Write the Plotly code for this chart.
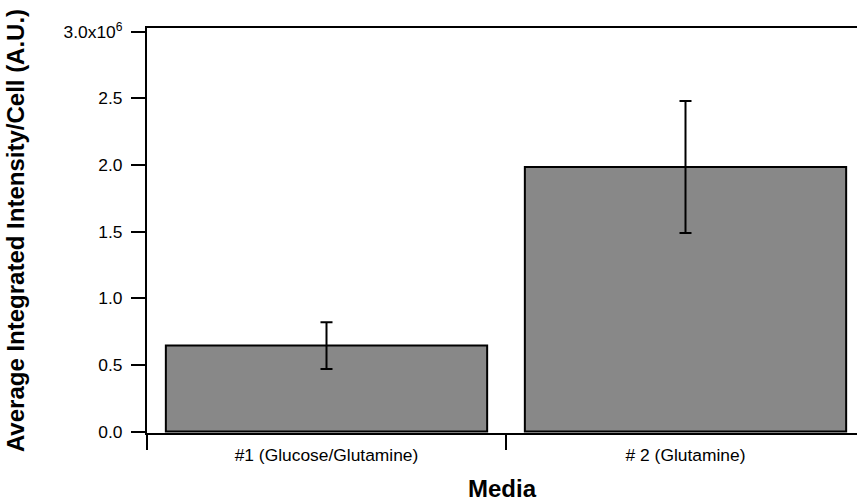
import plotly.graph_objects as go

# Data
media = ["#1 (Glucose/Glutamine)", "# 2 (Glutamine)"]
mean_intensity = [0.645e6, 1.985e6]
error = [0.175e6, 0.495e6]

y_tickvals = [0, 0.5e6, 1.0e6, 1.5e6, 2.0e6, 2.5e6, 3.0e6]
y_ticktext = ["0.0", "0.5", "1.0", "1.5", "2.0", "2.5", "3.0x10<sup>6</sup>"]

fig = go.Figure()

fig.add_trace(
    go.Bar(
        x=media,
        y=mean_intensity,
        width=0.895,
        marker=dict(color="#888888", line=dict(color="black", width=2)),
        error_y=dict(
            type="data",
            array=error,
            visible=True,
            color="black",
            thickness=2,
            width=6,
        ),
    )
)

fig.update_layout(
    width=857,
    height=502,
    margin=dict(l=147, r=0, t=28, b=69),
    paper_bgcolor="white",
    plot_bgcolor="white",
    font=dict(family="Liberation Sans, Arial, sans-serif", size=17.4, color="black"),
    showlegend=False,
)

fig.update_xaxes(
    type="category",
    range=[-0.5, 1.4777],
    showline=True,
    linecolor="black",
    linewidth=2,
    mirror=True,
    ticks="outside",
    tickson="boundaries",
    ticklen=15,
    tickwidth=2,
    tickcolor="black",
    ticklabelstandoff=5,
    showgrid=False,
    title=dict(text="<b>Media</b>", font=dict(size=24), standoff=16),
)

fig.update_yaxes(
    range=[-0.011e6, 3.028e6],
    tickmode="array",
    tickvals=y_tickvals,
    ticktext=y_ticktext,
    showline=True,
    linecolor="black",
    linewidth=2,
    ticks="outside",
    ticklen=14,
    tickwidth=2,
    tickcolor="black",
    ticklabelstandoff=5,
    showgrid=False,
    zeroline=False,
    title=dict(text="<b>Average Integrated Intensity/Cell (A.U.)</b>", font=dict(size=24), standoff=32),
)

# drop the default page margin so the figure sits at the window's corner
fig.write_html(
    "out.html",
    config={"displayModeBar": False},
    post_script="document.body.style.margin='0';",
)
